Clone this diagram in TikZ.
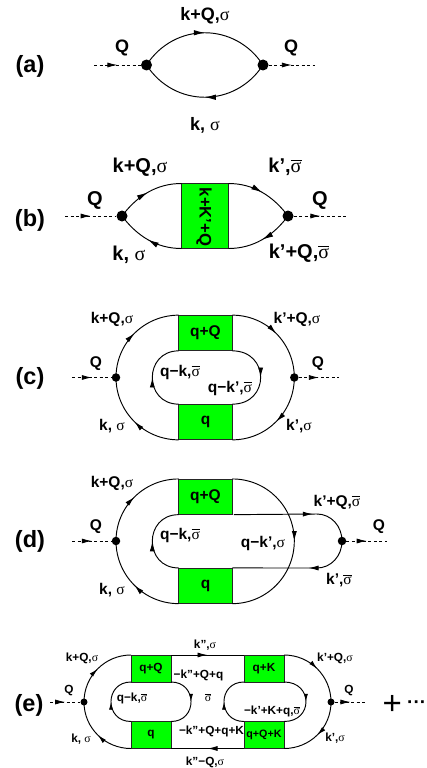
\documentclass[tikz,border=0pt]{standalone}
\usepackage{fontspec}
\setmainfont{Liberation Sans}
\newfontfamily\sgfont{Liberation Serif}
\usetikzlibrary{arrows.meta,decorations.markings}
\newcommand{\sg}{{\sgfont\mdseries σ}}
\newcommand{\sgb}{\leavevmode\hbox{\vbox{\hrule height .05em \kern .06em \hbox{\sgfont\mdseries σ}}}}
\tikzset{
  fa/.style={font=\bfseries\fontsize{18}{18}\selectfont,inner sep=0pt},
  fb/.style={font=\bfseries\fontsize{20}{20}\selectfont,inner sep=0pt},
  fc/.style={font=\bfseries\fontsize{15.5}{15.5}\selectfont,inner sep=0pt},
  fe/.style={font=\bfseries\fontsize{11.8}{11.8}\selectfont,inner sep=0pt},
  tag/.style={font=\bfseries\fontsize{23.5}{23.5}\selectfont,inner sep=0pt},
  fermi/.style={line width=0.95pt,postaction={decorate,decoration={markings,mark=at position 0.5 with {\arrow{Latex[length=#1,width=0.5*#1]}}}}},
  fermi/.default=11pt,
  markat/.style={line width=0.95pt,postaction={decorate,decoration={markings,mark=at position #1 with {\arrow{Latex[length=10pt,width=5pt]}}}}},
  plainline/.style={line width=0.95pt},
  boson/.style={line width=0.8pt,dash pattern=on 3pt off 2.5pt,postaction={decorate,decoration={markings,mark=at position 0.5 with {\arrow{Latex[length=10pt,width=5pt]}}}}},
  vtxa/.style={circle,fill=black,inner sep=0pt,minimum size=11pt},
  vtxc/.style={circle,fill=black,inner sep=0pt,minimum size=8.5pt},
  vtxe/.style={circle,fill=black,inner sep=0pt,minimum size=7pt},
  gbox/.style={draw=black!85,line width=0.9pt,fill=green,inner sep=0pt,outer sep=0pt,minimum width=#1},
}
\begin{document}
\begin{tikzpicture}[x=1pt,y=-1pt]
\useasboundingbox (0,0) rectangle (427,768);
% ---------- (a)
\node[tag] (ta) at (30,66) {(a)};
\node[vtxa] (al) at (146.5,65) {};
\node[vtxa] (ar) at (263,65) {};
\coordinate (ai) at (94,65);
\coordinate (ao) at (315,65);
\draw[boson] (ai) -- (al);
\draw[boson] (ar) -- (ao);
\draw[fermi] (al.center) .. controls +(28,-43) and +(-28,-43) .. (ar.center);
\draw[fermi] (ar.center) .. controls +(-28,43) and +(28,43) .. (al.center);
\node[fa] (a1) at (205,16) {k+Q,\sg};
\node[fa] (a2) at (122,48) {Q};
\node[fa] (a3) at (291,48) {Q};
\node[fa] (a4) at (205,125) {k, \sg};
% ---------- (b)
\node[tag] (tb) at (30,220) {(b)};
\node[vtxa] (bl) at (122,216) {};
\node[vtxa] (br) at (288,216) {};
\coordinate (bi) at (65,216);
\coordinate (bo) at (347,216);
\node[gbox=47pt,minimum height=65pt] (bb) at (205,216) {};
\node[fc,font=\bfseries\fontsize{16.7}{16.7}\selectfont,rotate=-90] (bbt) at (204,217) {k+K’+Q};
\draw[boson] (bi) -- (bl);
\draw[boson] (br) -- (bo);
\draw[fermi] (bl.center) .. controls +(15,-20) and +(-25,0) .. (bb.north west);
\draw[fermi] (bb.north east) .. controls +(25,0) and +(-15,-20) .. (br.center) ;
\draw[fermi] (bb.south west) .. controls +(-25,0) and +(15,20) .. (bl.center);
\draw[fermi] (br.center) .. controls +(-15,20) and +(25,0) .. (bb.south east);
\node[fb] (b1) at (140,167) {k+Q,\sg};
\node[fb] (b2) at (285,167) {k’,\sgb};
\node[fb] (b3) at (95,200) {Q};
\node[fb] (b4) at (320,200) {Q};
\node[fb] (b5) at (129,255) {k, \sg};
\node[fb] (b6) at (299,253) {k’+Q,\sgb};
% ---------- (c)
\node[tag] (tc) at (30,378) {(c)};
\node[vtxc] (cl) at (116,377.5) {};
\node[vtxc] (cr) at (294.3,377.5) {};
\coordinate (ci) at (72,377.5);
\coordinate (co) at (339,377.5);
\node[gbox=53.6pt,minimum height=35.7pt,fc] (ct) at (205.5,333) {q+Q};
\node[gbox=53.6pt,minimum height=35.7pt,fc] (cb) at (205.5,422) {q};
\draw[boson] (ci) -- (cl);
\draw[boson] (cr) -- (co);
\draw[fermi=10pt] (cl.center) .. controls +(0,-34.5) and +(-34.6,0) .. (ct.north west);
\draw[fermi=10pt] (ct.north east) .. controls +(34.3,0) and +(0,-34.5) .. (cr.center);
\draw[fermi=10pt] (cr.center) .. controls +(0,34.5) and +(34.3,0) .. (cb.south east);
\draw[fermi=10pt] (cb.south west) .. controls +(-34.6,0) and +(0,34.5) .. (cl.center);
\draw[fermi=10pt] (cb.north west) .. controls +(-35.2,0) and +(-35.2,0) .. (ct.south west);
\draw[fermi=10pt] (ct.south east) .. controls +(37.8,0) and +(37.8,0) .. (cb.north east);
\node[fc] (c1) at (112,319) {k+Q,\sg};
\node[fc] (c2) at (297,319) {k’+Q,\sg};
\node[fc] (c3) at (96,364) {Q};
\node[fc] (c4) at (318,364) {Q};
\node[fc] (c5) at (180,372) {q−k,\sgb};
\node[fc] (c6) at (230,388) {q−k’,\sgb};
\node[fc] (c7) at (112,426) {k, \sg};
\node[fc] (c8) at (299,426) {k’,\sg};
% ---------- (d)
\node[tag] (td) at (30,541) {(d)};
\node[vtxc] (dl) at (116,541) {};
\node[vtxc] (dr) at (342,541) {};
\coordinate (di) at (72,541);
\coordinate (do) at (387,541);
\coordinate (dv) at (294.3,541);
\coordinate (dw) at (317,568);
\coordinate (du) at (317,514);
\node[gbox=53.6pt,minimum height=35.7pt,fc] (dt) at (205.5,496.8) {q+Q};
\node[gbox=53.6pt,minimum height=35.7pt,fc] (db) at (205.5,585.8) {q};
\draw[boson] (di) -- (dl);
\draw[boson] (dr) -- (do);
\draw[fermi=10pt] (dl.center) .. controls +(0,-34.5) and +(-34.6,0) .. (dt.north west);
\draw[markat=0.5] (dt.north east) .. controls +(34.3,0) and +(0,-34.5) .. (dv) .. controls +(0,34.5) and +(34.3,0) .. (db.south east);
\draw[fermi=10pt] (db.south west) .. controls +(-34.6,0) and +(0,34.5) .. (dl.center);
\draw[fermi=10pt] (db.north west) .. controls +(-35.2,0) and +(-35.2,0) .. (dt.south west);
\draw[markat=0.95] ([xshift=1.5pt]dt.south east) -- (du);
\draw[plainline] (du) .. controls +(14,0) and +(0,-15) .. (dr.center);
\draw[plainline] (dr.center) .. controls +(0,15) and +(14,0) .. (dw);
\draw[markat=0.1] (dw) -- (db.north east);
\node[fc] (d1) at (112,483) {k+Q,\sg};
\node[fc] (d2) at (337,502) {k’+Q,\sgb};
\node[fc] (d3) at (96,527) {Q};
\node[fc] (d4) at (379,527) {Q};
\node[fc] (d5) at (180,535) {q−k,\sgb};
\node[fc] (d6) at (263,543) {q−k’,\sg};
\node[fc] (d7) at (112,590) {k, \sg};
\node[fc] (d8) at (339,580) {k’,\sgb};
% ---------- (e)
\node[tag] (te) at (29,705) {(e)};
\node[vtxe] (el) at (84,702) {};
\node[vtxe] (er) at (331,702) {};
\coordinate (ei) at (50,702);
\coordinate (eo) at (366,702);
\node[gbox=40pt,minimum height=27pt,fe] (e1) at (151,668.5) {q+Q};
\node[gbox=40pt,minimum height=27pt,fe] (e2) at (151,735) {q};
\node[gbox=40pt,minimum height=27pt,fe] (e3) at (264,668.5) {q+K};
\node[gbox=40pt,minimum height=27pt,fe,font=\bfseries\fontsize{10.7}{10.7}\selectfont] (e4) at (264,735) {q+Q+K};
\draw[boson] (ei) -- (el);
\draw[boson] (er) -- (eo);
\draw[fermi=9pt] (el.center) .. controls +(0,-26) and +(-26,0) .. (e1.north west);
\draw[fermi=9pt] (e2.south west) .. controls +(-26,0) and +(0,26) .. (el.center);
\draw[fermi=9pt] (e3.north east) .. controls +(26,0) and +(0,-26) .. (er.center);
\draw[fermi=9pt] (er.center) .. controls +(0,26) and +(26,0) .. (e4.south east);
\draw[fermi=10pt] (e1.north east) -- (e3.north west);
\draw[fermi=10pt] (e4.south west) -- (e2.south east);
\draw[fermi=8pt] (e2.north west) .. controls +(-26.7,0) and +(-26.7,0) .. (e1.south west);
\draw[fermi=8pt] (e1.south east) .. controls +(26.7,0) and +(26.7,0) .. (e2.north east);
\draw[fermi=8pt] (e4.north west) .. controls +(-26.7,0) and +(-26.7,0) .. (e3.south west);
\draw[fermi=8pt] (e3.south east) .. controls +(29.3,0) and +(29.3,0) .. (e4.north east);
\node[fe] (l1) at (82,658) {k+Q,\sg};
\node[fe] (l2) at (81,739) {k, \sg};
\node[fe] (l3) at (69,691) {Q};
\node[fe] (l4) at (349,691) {Q};
\node[fe] (l5) at (205,645) {k",\sg};
\node[fe] (l6) at (205,762) {k"−Q,\sg};
\node[fe] (l7) at (198.5,675) {−k"+Q+q};
\node[fe] (l8) at (208,698) {\sgb};
\node[fe] (l9) at (211.5,731) {−k"+Q+q+K};
\node[fe] (l10) at (132,698) {q−k,\sgb};
\node[fe] (l11) at (272,711) {−k’+K+q,\sgb};
\node[fe] (l12) at (335,658) {k’+Q,\sg};
\node[fe] (l13) at (335,738) {k’,\sg};
\node[inner sep=0pt,anchor=base west,font=\fontsize{33}{33}\selectfont] (pl) at (382.5,714.5) {+};
\node[inner sep=0pt,anchor=base west,font=\bfseries\fontsize{19}{19}\selectfont] (dots) at (407,708) {···};
\end{tikzpicture}
\end{document}
